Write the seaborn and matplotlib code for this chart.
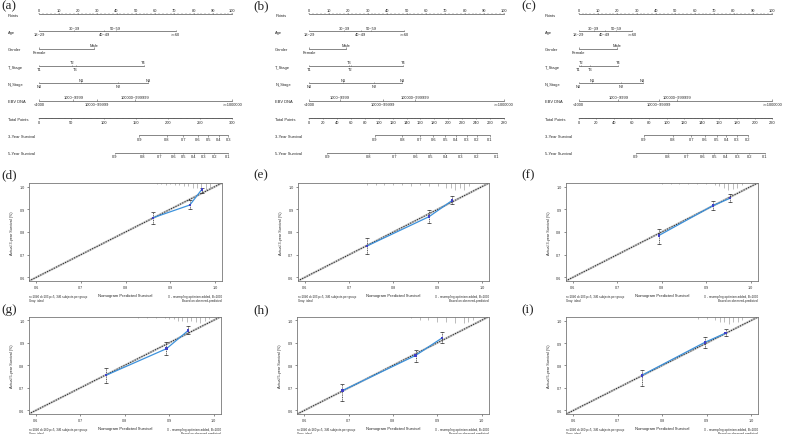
import numpy as np
import pandas as pd
import matplotlib
matplotlib.use("Agg")
import matplotlib.pyplot as plt
import seaborn as sns

sns.set_theme(style="white")
plt.rcParams['font.family'] = ['Liberation Sans', 'DejaVu Sans']

W, H = 785, 435

# ---------------- nomogram data ----------------
row_names = ["Points", "Age", "Gender", "T_Stage", "N_Stage", "EBV DNA",
             "Total Points", "3-Year Survival", "5-Year Survival"]
age_levels = ["18~29", "30~39", "40~49", "50~59", ">=60"]
gender_levels = ["Female", "Male"]
t_levels = ["T1", "T2", "T3", "T4"]
n_levels = ["N0", "N1", "N2", "N3"]
ebv_levels = ["<1000", "1000~9999", "10000~99999", "100000~999999", ">=1000000"]
surv_labels = ["0.9", "0.8", "0.7", "0.6", "0.5", "0.4", "0.3", "0.2", "0.1"]

# model (a)
a_age = [0, 18, 33.7, 39.5, 70.6]
a_gender = [0, 28.5]
a_t = [0, 17, 18.8, 54]
a_n = [0, 21.6, 41, 56.5]
a_ebv = [0, 17.6, 29.7, 49.6, 100]
a_total = (300, 50)
a_surv3 = [155.4, 198, 224, 246, 263, 279, 294]
a_surv5 = [117.6, 160.6, 187.6, 209, 224, 240, 256, 272, 293]

# model (b)
b_age = [0, 18, 26.4, 31.9, 48.7]
b_gender = [0, 18.9]
b_t = [0, 21.2, 20.6, 48.4]
b_n = [0, 17.5, 33.3, 47.9]
b_ebv = [0, 15.8, 38, 54.4, 100]
b_total = (280, 20)
b_surv3 = [94.6, 134, 159.5, 178.7, 196, 211, 226.7, 241, 260.3]
b_surv5 = [26, 86, 123, 153, 174, 196, 218, 241, 270]

# model (c)
c_age = [0, 7.9, 13.6, 19.4, 27.5]
c_gender = [0, 19.6]
c_t = [0, 1.4, 6, 20.5]
c_n = [0, 7, 21.9, 33]
c_ebv = [0, 20.5, 41.7, 50.8, 100]
c_total = (220, 20)
c_surv3 = [73.8, 106.8, 128, 143.5, 156.8, 168, 180, 192.4]
c_surv5 = [65, 101, 123, 141, 154, 167, 180.5, 194, 211.7]

# ---------------- calibration data ----------------
d_pred = [0.862, 0.944, 0.971]; d_obs = [0.863, 0.919, 0.988]
d_lo = [0.834, 0.900, 0.974];   d_hi = [0.887, 0.939, 0.995]
e_pred = [0.740, 0.881, 0.932]; e_obs = [0.738, 0.868, 0.938]
e_lo = [0.702, 0.838, 0.922];   e_hi = [0.772, 0.897, 0.959]
f_pred = [0.794, 0.915, 0.954]; f_obs = [0.785, 0.916, 0.949]
f_lo = [0.749, 0.897, 0.934];   f_hi = [0.813, 0.937, 0.968]
g_pred = [0.758, 0.894, 0.943]; g_obs = [0.756, 0.874, 0.955]
g_lo = [0.720, 0.845, 0.937];   g_hi = [0.790, 0.903, 0.974]
h_pred = [0.686, 0.851, 0.911]; h_obs = [0.688, 0.844, 0.922]
h_lo = [0.641, 0.815, 0.900];   h_hi = [0.715, 0.870, 0.947]
i_pred = [0.754, 0.896, 0.943]; i_obs = [0.756, 0.903, 0.944]
i_lo = [0.707, 0.878, 0.930];   i_hi = [0.782, 0.925, 0.963]

# spike histogram of predictions at top
d_sx = [0.87, 0.88, 0.89, 0.90, 0.91, 0.92, 0.93, 0.94, 0.95, 0.96, 0.97, 0.98, 0.99]
d_sn = [1, 1, 2, 1, 2, 2, 3, 3, 4, 4, 5, 6, 4]
e_sx = [0.74, 0.76, 0.78, 0.80, 0.82, 0.84, 0.86, 0.88, 0.90, 0.92, 0.93, 0.94, 0.95, 0.96, 0.97]
e_sn = [1, 1, 1, 1, 1, 2, 1, 2, 2, 3, 3, 4, 3, 4, 2]
f_sx = [0.80, 0.82, 0.84, 0.86, 0.88, 0.90, 0.92, 0.93, 0.94, 0.95, 0.96, 0.97, 0.98]
f_sn = [1, 1, 1, 1, 1, 1, 2, 3, 4, 6, 5, 4, 2]
g_sx = [0.83, 0.85, 0.87, 0.89, 0.90, 0.91, 0.92, 0.93, 0.94, 0.95, 0.96, 0.97, 0.98, 0.99]
g_sn = [1, 1, 1, 1, 2, 2, 3, 3, 4, 3, 4, 5, 3, 2]
h_sx = [0.84, 0.86, 0.88, 0.90, 0.92, 0.94, 0.96, 0.97, 0.98]
h_sn = [1, 2, 2, 3, 3, 4, 4, 3, 2]
i_sx = [0.88, 0.90, 0.92, 0.93, 0.94, 0.95, 0.96, 0.97, 0.98]
i_sn = [1, 1, 2, 3, 3, 4, 3, 3, 2]

fig = plt.figure(figsize=(W / 100, H / 100), dpi=100)


def px_axes(x0, y0, x1, y1):
    return fig.add_axes([x0 / W, 1 - y1 / H, (x1 - x0) / W, (y1 - y0) / H])


LC = '#555555'
FS = 2.9
ROWS_Y = [15, 32.3, 49.6, 67, 84.3, 101.6, 119, 136.3, 153.6]


def var_row(ax, y, pts, labels):
    ax.plot([min(pts), max(pts)], [y, y], color=LC, lw=0.5)
    ax.vlines(pts, y - 1.2, y, color=LC, lw=0.4)
    order = np.argsort(pts, kind='stable')
    for rank, k in enumerate(order):
        if rank % 2 == 0:
            ax.text(pts[k], y + 1.0, labels[k], fontsize=FS, ha='center', va='top')
        else:
            ax.text(pts[k], y - 1.6, labels[k], fontsize=FS, ha='center', va='bottom')


def bottom_row(ax, y, xs, labels):
    ax.plot([min(xs), max(xs)], [y, y], color=LC, lw=0.5)
    ax.vlines(xs, y, y + 1.2, color=LC, lw=0.4)
    for x, lab in zip(xs, labels):
        ax.text(x, y + 1.6, lab, fontsize=FS, ha='center', va='top')


def draw_nomo(rect, xlim, label_x, age, gender, t, n, ebv, total, s3, s5):
    ax = px_axes(*rect)
    ax.set_xlim(*xlim)
    ax.set_ylim(rect[3] - rect[1], 0)
    ax.axis('off')
    for name, y in zip(row_names, ROWS_Y):
        ax.text(label_x, y + 0.8, name, fontsize=FS, ha='left', va='center')
    # points scale
    y = ROWS_Y[0]
    ax.plot([0, 100], [y, y], color=LC, lw=0.5)
    ax.vlines(np.arange(0, 101, 10), y - 1.4, y, color=LC, lw=0.4)
    ax.vlines(np.arange(0, 101, 2), y - 0.7, y, color=LC, lw=0.3)
    for v in range(0, 101, 10):
        ax.text(v, y - 2.0, str(v), fontsize=FS, ha='center', va='bottom')
    var_row(ax, ROWS_Y[1], age, age_levels)
    var_row(ax, ROWS_Y[2], gender, gender_levels)
    var_row(ax, ROWS_Y[3], t, t_levels)
    var_row(ax, ROWS_Y[4], n, n_levels)
    var_row(ax, ROWS_Y[5], ebv, ebv_levels)
    # total points
    tmax, tstep = total
    y = ROWS_Y[6]
    ax.plot([0, 100], [y, y], color=LC, lw=0.5)
    minor = np.arange(0, tmax + 0.1, tstep / 5) * 100 / tmax
    ax.vlines(minor, y, y + 0.7, color=LC, lw=0.3)
    major = np.arange(0, tmax + 0.1, tstep)
    bottom_row(ax, y, major * 100 / tmax, [str(int(v)) for v in major])
    bottom_row(ax, ROWS_Y[7], np.array(s3) * 100 / tmax, surv_labels[:len(s3)])
    bottom_row(ax, ROWS_Y[8], np.array(s5) * 100 / tmax, surv_labels[:len(s5)])


draw_nomo((0, 0, 255, 165), (-20.4, 111.8), -16.2,
          a_age, a_gender, a_t, a_n, a_ebv, a_total, a_surv3, a_surv5)
draw_nomo((260, 0, 520, 165), (-25.4, 108.4), -17.6,
          b_age, b_gender, b_t, b_n, b_ebv, b_total, b_surv3, b_surv5)
draw_nomo((520, 0, 785, 165), (-30.3, 106.6), -17.4,
          c_age, c_gender, c_t, c_n, c_ebv, c_total, c_surv3, c_surv5)

LIM = (0.584, 1.016)


def draw_cal(rect, pred, obs, lo, hi, sx, sn, year, foot):
    ax = px_axes(*rect)
    ax.set_xlim(*LIM)
    ax.set_ylim(*LIM)
    ax.plot(LIM, LIM, color='#c8c8c8', lw=1.6, zorder=1)
    ax.plot(LIM, LIM, color='#222222', lw=0.7, ls=(0, (1.2, 1.4)), zorder=2)
    sx = np.array(sx)
    hgt = np.array(sn) / max(sn) * 0.03
    ax.vlines(sx, LIM[1] - hgt, LIM[1], color='#8a8a8a', lw=0.4)
    pred = np.array(pred); obs = np.array(obs)
    df = pd.DataFrame({'pred': pred, 'obs': obs})
    sns.lineplot(data=df, x='pred', y='obs', ax=ax, color='#3d92dc', lw=0.9, zorder=4)
    eb = ax.errorbar(pred, obs, yerr=[obs - np.array(lo), np.array(hi) - obs], fmt='none',
                     ecolor='#222222', elinewidth=0.5, capsize=1.2, capthick=0.5, zorder=3)
    eb[2][0].set_linestyle((0, (1.5, 1.0)))
    sns.scatterplot(x=pred, y=obs, ax=ax, marker='s', s=3, color='#4040c8',
                    edgecolor='none', zorder=5)
    ax.set_xticks([0.6, 0.7, 0.8, 0.9, 1.0])
    ax.set_yticks([0.6, 0.7, 0.8, 0.9, 1.0])
    ax.set_xticklabels(["0.6", "0.7", "0.8", "0.9", "1.0"])
    ax.set_yticklabels(["0.6", "0.7", "0.8", "0.9", "1.0"])
    ax.tick_params(labelsize=2.7, length=1.5, width=0.4, pad=1.5, colors='#333333',
                   left=True, bottom=True)
    for sp in ax.spines.values():
        sp.set_color('#777777')
        sp.set_linewidth(0.6)
    ax.set_xlabel("Nomogram Predicted Survival", fontsize=3.0, labelpad=2.5)
    ax.set_ylabel("Actual %s-year Survival (%%)" % year, fontsize=2.7, labelpad=4)
    ax.text(0.0, -0.13, foot + "\nGray: ideal", transform=ax.transAxes,
            fontsize=2.2, ha='left', va='top', linespacing=1.1)
    ax.text(1.0, -0.13, "X - resampling optimism added, B=1000\nBased on observed-predicted",
            transform=ax.transAxes, fontsize=2.2, ha='right', va='top', linespacing=1.1)


draw_cal((29, 184, 222, 282), d_pred, d_obs, d_lo, d_hi, d_sx, d_sn, "3",
         "n=1040 d=103 p=5, 346 subjects per group")
draw_cal((297.7, 184, 489, 282), e_pred, e_obs, e_lo, e_hi, e_sx, e_sn, "3",
         "n=1040 d=103 p=5, 346 subjects per group")
draw_cal((565.7, 184, 757.7, 282), f_pred, f_obs, f_lo, f_hi, f_sx, f_sn, "3",
         "n=1040 d=103 p=5, 346 subjects per group")
draw_cal((28.7, 317.7, 220.7, 415), g_pred, g_obs, g_lo, g_hi, g_sx, g_sn, "5",
         "n=1040 d=160 p=5, 346 subjects per group")
draw_cal((297.3, 317.7, 488.7, 415), h_pred, h_obs, h_lo, h_hi, h_sx, h_sn, "5",
         "n=1040 d=160 p=5, 346 subjects per group")
draw_cal((566.3, 318, 758, 415), i_pred, i_obs, i_lo, i_hi, i_sx, i_sn, "5",
         "n=1040 d=160 p=5, 346 subjects per group")

panel_pos = {"(a)": (1, 0), "(b)": (253, 0), "(c)": (521, 0),
             "(d)": (1, 169), "(e)": (253, 169), "(f)": (521, 169),
             "(g)": (1, 304), "(h)": (253, 304), "(i)": (521, 304)}
for lab, (x, y) in panel_pos.items():
    fig.text(x / W, 1 - y / H, lab, fontsize=9.5, family=['Liberation Serif', 'DejaVu Serif'],
             ha='left', va='top')

fig.savefig("out.png", dpi=100)
